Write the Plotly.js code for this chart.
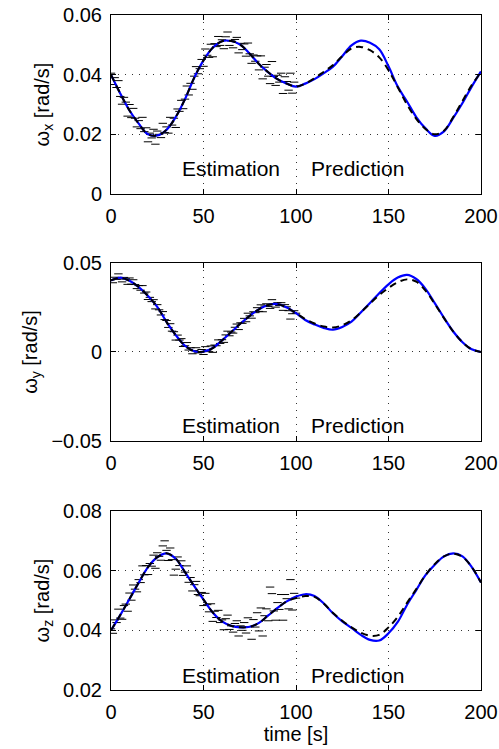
<!DOCTYPE html>
<html>
<head>
<meta charset="utf-8">
<script src="https://cdn.plot.ly/plotly-3.0.1.min.js"></script>
<style>html,body{margin:0;padding:0;background:#fff;}#chart{width:499px;height:749px;}</style>
</head>
<body>
<div id="chart"></div>
<script>
// time grid for the smooth curves (s)
var time5 = [0,5,10,15,20,25,30,35,40,45,50,55,60,65,70,75,80,85,90,95,100,105,110,115,120,125,130,135,140,145,150,155,160,165,170,175,180,185,190,195,200];
// measurement times (s)
var timeMeas = [0,1,2,3,4,5,6,7,8,9,10,11,12,13,14,15,16,17,18,19,20,21,22,23,24,25,26,27,28,29,30,31,32,33,34,35,36,37,38,39,40,41,42,43,44,45,46,47,48,49,50,51,52,53,54,55,56,57,58,59,60,61,62,63,64,65,66,67,68,69,70,71,72,73,74,75,76,77,78,79,80,81,82,83,84,85,86,87,88,89,90,91,92,93,94,95,96,97,98,99,100];

// omega_x [rad/s]
var wxTrue = [0.0400,0.0337,0.0280,0.0236,0.0200,0.0196,0.0215,0.0258,0.0318,0.0390,0.0448,0.0490,0.0512,0.0513,0.0500,0.0470,0.0436,0.0408,0.0385,0.0370,0.0360,
  0.0370,0.0388,0.0410,0.0432,0.0462,0.0488,0.0493,0.0482,0.0458,0.0415,0.0358,0.0300,0.0252,0.0218,0.0200,0.0212,0.0258,0.0312,0.0365,0.0408];
var wxEst = [0.0400,0.0337,0.0280,0.0236,0.0200,0.0196,0.0215,0.0258,0.0318,0.0390,0.0448,0.0490,0.0512,0.0513,0.0500,0.0470,0.0436,0.0408,0.0385,0.0370,0.0360,
  0.0370,0.0385,0.0405,0.0427,0.0462,0.0498,0.0514,0.0507,0.0485,0.0428,0.0360,0.0310,0.0258,0.0220,0.0195,0.0210,0.0255,0.0305,0.0360,0.0411];
var wxMeas = [0.0405,0.0367,0.0390,0.0357,0.0380,0.0327,0.0301,0.0324,0.0308,0.0261,0.0300,0.0256,0.0287,0.0254,0.0225,0.0246,0.0219,0.0257,0.0209,0.0222,
  0.0175,0.0204,0.0188,0.0217,0.0167,0.0211,0.0200,0.0189,0.0237,0.0206,0.0225,0.0204,0.0257,0.0231,0.0254,0.0223,0.0285,0.0277,0.0314,0.0286,
  0.0318,0.0362,0.0332,0.0371,0.0351,0.0395,0.0427,0.0403,0.0420,0.0451,0.0428,0.0486,0.0465,0.0458,0.0502,0.0460,0.0504,0.0494,0.0528,0.0498,
  0.0517,0.0487,0.0527,0.0543,0.0498,0.0513,0.0490,0.0518,0.0525,0.0473,0.0505,0.0484,0.0503,0.0462,0.0506,0.0470,0.0438,0.0466,0.0445,0.0463,
  0.0416,0.0463,0.0386,0.0425,0.0434,0.0395,0.0370,0.0444,0.0394,0.0364,0.0398,0.0375,0.0405,0.0337,0.0393,0.0377,0.0348,0.0405,0.0338,0.0375,0.0360];

// omega_y [rad/s]
var wyTrue = [0.0402,0.0418,0.0400,0.0365,0.0315,0.0254,0.0169,0.0095,0.0035,0.0004,0.0002,0.0022,0.0065,0.0112,0.0160,0.0203,0.0240,0.0264,0.0269,0.0250,0.0218,
  0.0185,0.0160,0.0143,0.0138,0.0150,0.0178,0.0222,0.0272,0.0320,0.0360,0.0392,0.0408,0.0395,0.0345,0.0270,0.0190,0.0115,0.0055,0.0015,0.0000];
var wyEst = [0.0402,0.0418,0.0400,0.0365,0.0315,0.0254,0.0169,0.0095,0.0035,0.0004,0.0002,0.0022,0.0065,0.0112,0.0160,0.0203,0.0240,0.0264,0.0269,0.0250,0.0218,
  0.0180,0.0155,0.0135,0.0125,0.0140,0.0170,0.0222,0.0275,0.0330,0.0380,0.0418,0.0433,0.0410,0.0355,0.0275,0.0192,0.0115,0.0055,0.0015,0.0000];
var wyMeas = [0.0406,0.0389,0.0420,0.0408,0.0439,0.0410,0.0394,0.0419,0.0411,0.0380,0.0416,0.0381,0.0406,0.0379,0.0356,0.0373,0.0347,0.0373,0.0331,0.0337,
  0.0295,0.0307,0.0283,0.0294,0.0242,0.0266,0.0237,0.0208,0.0227,0.0182,0.0177,0.0138,0.0159,0.0117,0.0114,0.0067,0.0095,0.0067,0.0075,0.0031,
  0.0035,0.0053,0.0011,0.0024,-0.0010,0.0008,0.0024,-0.0005,-0.0001,0.0014,-0.0014,0.0030,0.0010,0.0002,0.0034,-0.0002,0.0039,0.0035,0.0068,0.0048,
  0.0069,0.0054,0.0096,0.0117,0.0091,0.0112,0.0106,0.0139,0.0157,0.0126,0.0164,0.0161,0.0189,0.0170,0.0218,0.0203,0.0190,0.0226,0.0221,0.0249,
  0.0228,0.0265,0.0226,0.0258,0.0271,0.0256,0.0245,0.0294,0.0267,0.0252,0.0277,0.0261,0.0277,0.0234,0.0266,0.0254,0.0232,0.0185,0.0215,0.0232,0.0218];

// omega_z [rad/s]
var wzTrue = [0.0400,0.0451,0.0505,0.0560,0.0612,0.0645,0.0658,0.0640,0.0595,0.0548,0.0503,0.0460,0.0430,0.0415,0.0410,0.0412,0.0425,0.0450,0.0475,0.0497,0.0508,
  0.0515,0.0512,0.0490,0.0458,0.0432,0.0410,0.0392,0.0382,0.0385,0.0410,0.0445,0.0492,0.0538,0.0585,0.0622,0.0648,0.0657,0.0646,0.0612,0.0560];
var wzEst = [0.0400,0.0451,0.0505,0.0560,0.0612,0.0645,0.0658,0.0640,0.0595,0.0548,0.0503,0.0460,0.0430,0.0415,0.0410,0.0412,0.0425,0.0450,0.0475,0.0497,0.0513,
  0.0521,0.0515,0.0490,0.0457,0.0430,0.0408,0.0385,0.0368,0.0366,0.0390,0.0428,0.0485,0.0535,0.0585,0.0620,0.0648,0.0658,0.0648,0.0612,0.0560];
var wzMeas = [0.0405,0.0390,0.0435,0.0426,0.0471,0.0441,0.0437,0.0483,0.0488,0.0464,0.0525,0.0501,0.0552,0.0538,0.0529,0.0570,0.0560,0.0616,0.0586,0.0617,
  0.0587,0.0624,0.0615,0.0652,0.0608,0.0660,0.0648,0.0635,0.0683,0.0700,0.0668,0.0634,0.0676,0.0637,0.0585,0.0605,0.0646,0.0617,0.0633,0.0584,
  0.0595,0.0616,0.0561,0.0577,0.0532,0.0553,0.0564,0.0520,0.0516,0.0527,0.0483,0.0524,0.0486,0.0462,0.0489,0.0430,0.0464,0.0443,0.0467,0.0426,
  0.0435,0.0402,0.0439,0.0451,0.0403,0.0415,0.0394,0.0423,0.0432,0.0381,0.0415,0.0400,0.0426,0.0391,0.0442,0.0412,0.0370,0.0436,0.0411,0.0459,
  0.0398,0.0475,0.0381,0.0449,0.0472,0.0432,0.0545,0.0523,0.0465,0.0434,0.0493,0.0470,0.0520,0.0434,0.0520,0.0506,0.0472,0.0570,0.0468,0.0524,0.0508];

var xTickVals = [0,50,100,150,200];
var FONT = 'Liberation Sans, Arial, Helvetica, sans-serif';

function series(k, meas, est, tru) {
  var xa = k === 1 ? 'x' : 'x' + k, ya = k === 1 ? 'y' : 'y' + k;
  return [
    {x: timeMeas, y: meas, xaxis: xa, yaxis: ya, type: 'scatter', mode: 'markers',
     marker: {symbol: 'line-ew', size: 6, color: '#000', line: {color: '#000', width: 1}},
     hoverinfo: 'skip', showlegend: false},
    {x: time5, y: est, xaxis: xa, yaxis: ya, type: 'scatter', mode: 'lines',
     line: {color: '#0000ff', width: 2.2, shape: 'spline', smoothing: 1}, showlegend: false},
    {x: time5, y: tru, xaxis: xa, yaxis: ya, type: 'scatter', mode: 'lines',
     line: {color: '#000', width: 2, dash: '7px,5px', shape: 'spline', smoothing: 1}, showlegend: false}
  ];
}

var data = [].concat(series(1, wxMeas, wxEst, wxTrue), series(2, wyMeas, wyEst, wyTrue), series(3, wzMeas, wzEst, wzTrue));

function xaxis(domainAnchor, withTitle) {
  var a = {
    anchor: domainAnchor, domain: [0, 1], range: [0, 200], tickvals: xTickVals,
    ticks: 'inside', ticklen: 5, tickwidth: 1, tickcolor: '#000',
    showline: true, linecolor: '#000', linewidth: 1, mirror: 'ticks',
    showgrid: true, gridcolor: '#333', gridwidth: 1, griddash: '1px,6px',
    zeroline: false, ticklabelstandoff: 4,
    tickfont: {family: FONT, size: 20, color: '#000'}
  };
  if (withTitle) a.title = {text: 'time [s]', font: {family: FONT, size: 20, color: '#000'}, standoff: 4};
  return a;
}
function yaxis(anchor, dom, range, dtick, sub) {
  return {
    anchor: anchor, domain: dom, range: range, dtick: dtick, tick0: range[0],
    ticks: 'inside', ticklen: 5, tickwidth: 1, tickcolor: '#000',
    showline: true, linecolor: '#000', linewidth: 1, mirror: 'ticks',
    showgrid: true, gridcolor: '#333', gridwidth: 1, griddash: '1px,6px',
    zeroline: false, ticklabelstandoff: 4,
    tickfont: {family: FONT, size: 20, color: '#000'},
    title: {text: '\u03c9<sub>' + sub + '</sub> [rad/s]', font: {family: FONT, size: 20, color: '#000'}, standoff: 8}
  };
}

function labels(xa, ya, yfrac) {
  return [
    {xref: xa, yref: ya + ' domain', x: 100, y: yfrac, xanchor: 'right', yanchor: 'middle', xshift: -14,
     text: 'Estimation', showarrow: false, font: {family: FONT, size: 21, color: '#000'}},
    {xref: xa, yref: ya + ' domain', x: 100, y: yfrac, xanchor: 'left', yanchor: 'middle', xshift: 13,
     text: 'Prediction', showarrow: false, font: {family: FONT, size: 21, color: '#000'}}
  ];
}

var layout = {
  width: 499, height: 749,
  margin: {l: 111, r: 18, t: 15, b: 59},
  paper_bgcolor: '#fff', plot_bgcolor: '#fff',
  showlegend: false,
  xaxis: xaxis('y', false),
  xaxis2: xaxis('y2', false),
  xaxis3: xaxis('y3', true),
  yaxis: yaxis('x', [0.7348, 1.0], [0, 0.06], 0.02, 'x'),
  yaxis2: yaxis('x2', [0.3689, 0.6326], [-0.05, 0.05], 0.05, 'y'),
  yaxis3: yaxis('x3', [0, 0.2652], [0.02, 0.08], 0.02, 'z'),
  annotations: [].concat(labels('x', 'y', 0.14), labels('x2', 'y2', 0.086), labels('x3', 'y3', 0.08))
};

Plotly.newPlot('chart', data, layout, {displayModeBar: false, staticPlot: true});
</script>
</body>
</html>
